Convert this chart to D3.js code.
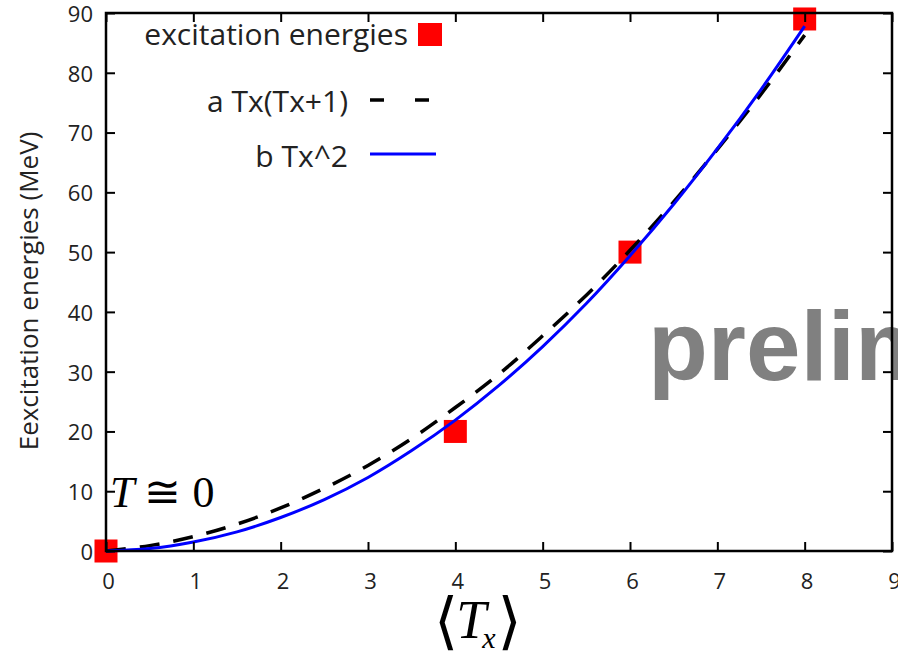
<!DOCTYPE html>
<html>
<head>
<meta charset="utf-8">
<script src="https://cdn.jsdelivr.net/npm/d3@7"></script>
<style>
  body { margin: 0; background: #fff; }
  svg { display: block; }
</style>
</head>
<body>
<div id="display-container"></div>
<script>
// values
var xTicks = [0, 1, 2, 3, 4, 5, 6, 7, 8, 9];
var yTicks = [0, 10, 20, 30, 40, 50, 60, 70, 80, 90];

var energyT = [0, 4, 6, 8];
var energyE = [0, 20, 50, 89];

var fitT = [0, 0.5, 1, 1.5, 2, 2.5, 3, 3.5, 4, 4.5, 5, 5.5, 6, 6.5, 7, 7.5, 8];
var fitA = [0, 0.9, 2.4, 4.5, 7.2, 10.5, 14.3, 18.8, 24.0, 29.6, 36.0, 42.8, 50.3, 58.4, 67.2, 76.4, 86.3];
var fitB = [0, 0.4, 1.5, 3.2, 5.6, 8.6, 12.3, 16.8, 21.9, 27.7, 34.2, 41.4, 49.4, 58.0, 67.3, 77.2, 87.8];

var legendLabels = ["excitation energies", "a Tx(Tx+1)", "b Tx^2"];

var width = 898;
var height = 653;
var margin = {top: 13, right: 6, bottom: 102, left: 106};
var w = width - margin.left - margin.right;
var h = height - margin.top - margin.bottom;

var svg = d3.select("#display-container").append("svg")
    .attr("width", width)
    .attr("height", height);

var x = d3.scaleLinear().domain([0, 9]).range([margin.left, margin.left + w]);
var y = d3.scaleLinear().domain([0, 90]).range([margin.top + h, margin.top]);

// watermark behind everything
svg.append("text")
    .attr("x", 648)
    .attr("y", 380)
    .style("font-family", "'Liberation Sans', Arial, sans-serif")
    .style("font-weight", "bold")
    .style("font-size", "98px")
    .style("fill", "#808080")
    .text("preliminary");

// data squares
var sq = 23;
svg.selectAll(".pt")
    .data(energyT)
    .enter().append("rect")
    .attr("class", "pt")
    .attr("x", function(d) { return x(d) - sq / 2; })
    .attr("y", function(d, i) { return y(energyE[i]) - sq / 2; })
    .attr("width", sq)
    .attr("height", sq)
    .style("fill", "#ff0000");

// fit curves
var line = d3.line()
    .x(function(d, i) { return x(fitT[i]); })
    .y(function(d) { return y(d); })
    .curve(d3.curveCatmullRom);

svg.append("path")
    .attr("d", line(fitA))
    .style("fill", "none")
    .style("stroke", "#000")
    .style("stroke-width", 3.5)
    .style("stroke-dasharray", "20,14");

svg.append("path")
    .attr("d", line(fitB))
    .style("fill", "none")
    .style("stroke", "#0000ff")
    .style("stroke-width", 3);

// axes, ticks pointing inward on all four sides
var tickFont = "'Open Sans', sans-serif";

var gx = svg.append("g")
    .attr("transform", "translate(0," + (margin.top + h) + ")")
    .call(d3.axisBottom(x).tickValues(xTicks).tickFormat(d3.format("d"))
        .tickSizeInner(-9).tickSizeOuter(0).tickPadding(22));
var gy = svg.append("g")
    .attr("transform", "translate(" + margin.left + ",0)")
    .call(d3.axisLeft(y).tickValues(yTicks).tickFormat(d3.format("d"))
        .tickSizeInner(-9).tickSizeOuter(0).tickPadding(13));
var gt = svg.append("g")
    .attr("transform", "translate(0," + margin.top + ")")
    .call(d3.axisTop(x).tickValues(xTicks).tickFormat("")
        .tickSizeInner(-9).tickSizeOuter(0));
var gr = svg.append("g")
    .attr("transform", "translate(" + (margin.left + w) + ",0)")
    .call(d3.axisRight(y).tickValues(yTicks).tickFormat("")
        .tickSizeInner(-9).tickSizeOuter(0));

[gx, gy, gt, gr].forEach(function(g) {
    g.select(".domain").remove();
    g.selectAll(".tick line").style("stroke", "#000").style("stroke-width", 2);
    g.selectAll(".tick text")
        .style("font-family", tickFont)
        .style("font-size", "22px")
        .style("fill", "#222");
});
gx.selectAll(".tick text").attr("dx", 2);
gy.selectAll(".tick text").attr("dy", "0.38em");

// frame
svg.append("rect")
    .attr("x", margin.left)
    .attr("y", margin.top)
    .attr("width", w)
    .attr("height", h)
    .style("fill", "none")
    .style("stroke", "#000")
    .style("stroke-width", 2.5);

// legend
var legendFont = "'Open Sans', sans-serif";
var legendY = [45, 112, 167];
var legendRight = [408, 348, 348];
svg.selectAll(".leg")
    .data(legendLabels)
    .enter().append("text")
    .attr("class", "leg")
    .attr("x", function(d, i) { return legendRight[i]; })
    .attr("y", function(d, i) { return legendY[i]; })
    .attr("text-anchor", "end")
    .style("font-family", legendFont)
    .style("font-size", "30px")
    .style("fill", "#222")
    .text(function(d) { return d; });

svg.append("rect")
    .attr("x", 418).attr("y", 23).attr("width", 24).attr("height", 23)
    .style("fill", "#ff0000");
svg.append("line")
    .attr("x1", 370).attr("x2", 436).attr("y1", 100).attr("y2", 100)
    .style("stroke", "#000").style("stroke-width", 3.5)
    .style("stroke-dasharray", "14,31");
svg.append("line")
    .attr("x1", 370).attr("x2", 436).attr("y1", 154).attr("y2", 154)
    .style("stroke", "#0000ff").style("stroke-width", 3);

// y axis title
svg.append("text")
    .attr("transform", "translate(38,291) rotate(-90)")
    .attr("text-anchor", "middle")
    .style("font-family", "'Open Sans', sans-serif")
    .style("font-size", "26px")
    .style("fill", "#222")
    .text("Eexcitation energies (MeV)");

// T ≅ 0 annotation
var ann = svg.append("text")
    .attr("x", 110)
    .attr("y", 507)
    .style("font-family", "'Liberation Serif', 'DejaVu Serif', serif")
    .style("font-size", "44px")
    .style("fill", "#000");
ann.append("tspan").style("font-style", "italic").text("T");
ann.append("tspan").attr("dx", 10).text("\u2245 0");

// x axis title <T_x>
var xt = svg.append("text")
    .attr("x", 434)
    .attr("y", 638)
    .style("font-family", "'Liberation Serif', 'DejaVu Serif', serif")
    .style("fill", "#000");
xt.append("tspan").style("font-size", "62px").attr("dy", 4).text("\u27E8");
xt.append("tspan").style("font-size", "54px").style("font-style", "italic").attr("dy", -4).attr("dx", -2).text("T");
xt.append("tspan").style("font-size", "30px").style("font-style", "italic").attr("dy", 10).attr("dx", -4).text("x");
xt.append("tspan").style("font-size", "62px").attr("dy", -6).attr("dx", 2).text("\u27E9");
</script>
</body>
</html>
